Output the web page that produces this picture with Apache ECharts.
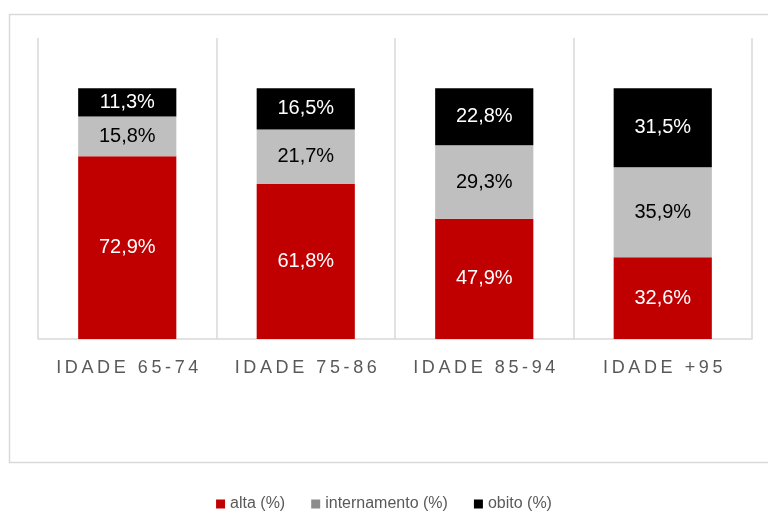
<!DOCTYPE html>
<html>
<head>
<meta charset="utf-8">
<style>
  html, body { margin: 0; padding: 0; background: #fff; }
  #chart { width: 768px; height: 511px; }
</style>
<script src="https://cdn.jsdelivr.net/npm/echarts@6/dist/echarts.min.js"></script>
</head>
<body>
<div id="chart"></div>
<script>
// dados
var categorias = ["IDADE 65-74", "IDADE 75-86", "IDADE 85-94", "IDADE +95"];
var alta = [72.9, 61.8, 47.9, 32.6];
var internamento = [15.8, 21.7, 29.3, 35.9];
var obito = [11.3, 16.5, 22.8, 31.5];
var nomes = ["alta (%)", "internamento (%)", "obito (%)"];

var fonte = "'Liberation Sans', 'DejaVu Sans', sans-serif";

// espacar letras (o canvas nao tem letter-spacing)
function espacar(txt) {
  return txt.split("").join("\u2009");
}

function rotulo(cor) {
  return {
    show: true,
    position: "inside",
    color: cor,
    fontSize: 20,
    fontFamily: fonte,
    formatter: function (p) {
      return p.value.toFixed(1).replace(".", ",") + "%";
    }
  };
}

var chart = echarts.init(document.getElementById("chart"));

var option = {
  animation: false,
  backgroundColor: "#ffffff",
  graphic: [
    {
      type: "rect",
      shape: { x: 9.5, y: 14.5, width: 780, height: 448 },
      style: { fill: "none", stroke: "#d9d9d9", lineWidth: 1.5 },
      silent: true
    }
  ],
  legend: {
    top: 491,
    left: "center",
    itemWidth: 9,
    itemHeight: 9,
    itemGap: 26,
    icon: "rect",
    textStyle: { color: "#595959", fontSize: 16, fontFamily: fonte },
    data: [
      { name: nomes[0], itemStyle: { color: "#c00000" } },
      { name: nomes[1], itemStyle: { color: "#8c8c8c" } },
      { name: nomes[2], itemStyle: { color: "#000000" } }
    ]
  },
  grid: {
    left: 38,
    right: 16,
    top: 38,
    bottom: 172
  },
  xAxis: {
    type: "category",
    data: categorias,
    axisLine: { lineStyle: { color: "#d9d9d9", width: 1.5 } },
    axisTick: { show: false, interval: 0 },
    splitLine: { show: true, interval: 0, lineStyle: { color: "#d9d9d9", width: 1.5 } },
    axisLabel: {
      interval: 0,
      color: "#595959",
      fontSize: 18,
      fontFamily: fonte,
      margin: 20,
      formatter: espacar
    }
  },
  yAxis: {
    type: "value",
    min: 0,
    max: 120,
    show: false,
    splitLine: { show: false }
  },
  series: [
    {
      name: nomes[0],
      type: "bar",
      stack: "total",
      barWidth: "55%",
      itemStyle: { color: "#c00000" },
      label: rotulo("#ffffff"),
      data: alta
    },
    {
      name: nomes[1],
      type: "bar",
      stack: "total",
      itemStyle: { color: "#bfbfbf" },
      label: rotulo("#000000"),
      data: internamento
    },
    {
      name: nomes[2],
      type: "bar",
      stack: "total",
      itemStyle: { color: "#000000" },
      label: rotulo("#ffffff"),
      data: obito
    }
  ]
};

chart.setOption(option);
window.addEventListener("resize", function () {
  chart.resize();
});
</script>
</body>
</html>
